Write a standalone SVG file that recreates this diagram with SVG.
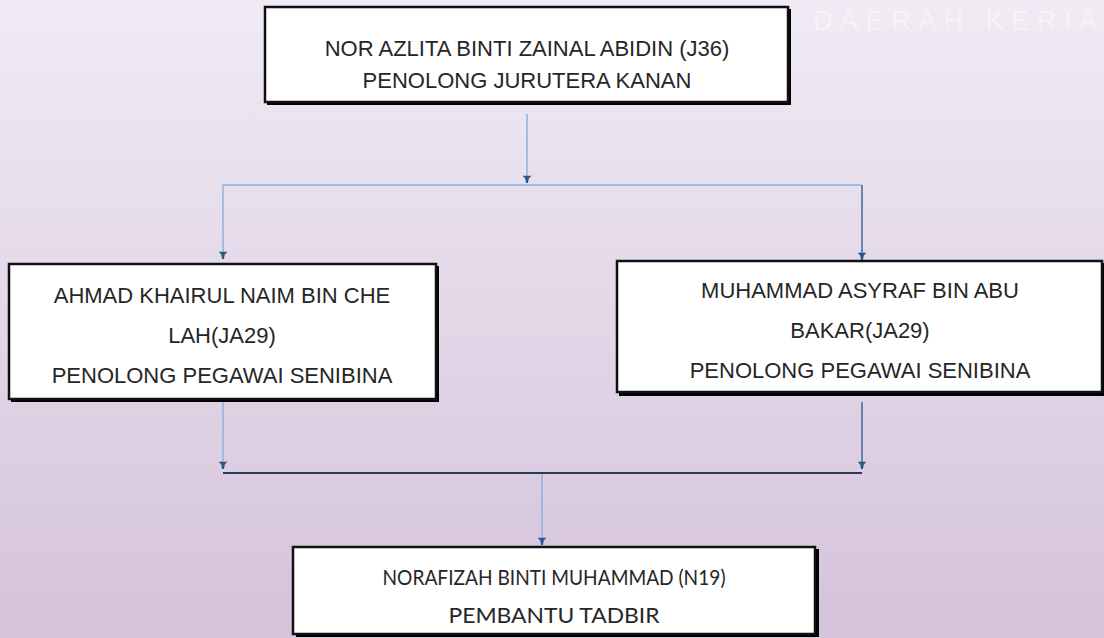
<svg xmlns="http://www.w3.org/2000/svg" width="1104" height="638" viewBox="0 0 1104 638">
  <defs>
    <linearGradient id="bg" x1="0" y1="0" x2="0" y2="1">
      <stop offset="0" stop-color="#f0ebf4"/>
      <stop offset="1" stop-color="#d5c2db"/>
    </linearGradient>
    <marker id="arrd" viewBox="0 0 10 8" refX="5" refY="7" markerWidth="9" markerHeight="8" markerUnits="userSpaceOnUse" orient="0">
      <path d="M0,0 L10,0 L7,3 L6,8 L4,8 L3,3 Z" fill="#2b5788"/>
    </marker>
  </defs>
  <style>
    .shadow { fill: #000000; }
    .box { fill: #ffffff; stroke: #111111; stroke-width: 2.5; }
    .t { font-family: "Liberation Sans", Arial, sans-serif; font-size: 22px; fill: #262626; text-anchor: middle; }
    .tc { font-family: Lato, "Open Sans", sans-serif; font-size: 21px; fill: #262626; text-anchor: middle; }
    .light { stroke: #8fb1de; stroke-width: 1.5; fill: none; }
    .dark { stroke: #46669a; stroke-width: 1.5; fill: none; }
    .darker { stroke: #2c3a58; stroke-width: 2; fill: none; }
    .wm { font-family: "Liberation Sans", Arial, sans-serif; font-size: 27px; fill: #ffffff; fill-opacity: 0.45; }
  </style>

  <rect x="0" y="0" width="1104" height="638" fill="url(#bg)"/>
  <text class="wm" x="813" y="30" textLength="284" lengthAdjust="spacing">DAERAH KERIA</text>

  <g id="connectors">
    <line class="light" x1="527" y1="114" x2="527" y2="182" marker-end="url(#arrd)"/>
    <polyline class="light" points="223,185 862,185"/>
    <line class="light" x1="223" y1="185" x2="223" y2="258" marker-end="url(#arrd)"/>
    <line class="dark" x1="862" y1="185" x2="862" y2="259" marker-end="url(#arrd)"/>
    <line class="light" x1="223" y1="401" x2="223" y2="468" marker-end="url(#arrd)"/>
    <line class="dark" x1="862" y1="402" x2="862" y2="468" marker-end="url(#arrd)"/>
    <polyline class="darker" points="223,473 862,473"/>
    <line class="light" x1="542" y1="474" x2="542" y2="544" marker-end="url(#arrd)"/>
  </g>

  <g id="node-top">
    <rect class="shadow" x="267" y="9" width="524" height="96"/>
    <rect class="box" x="265" y="7" width="523" height="95"/>
    <text class="t" x="527" y="56">NOR AZLITA BINTI ZAINAL ABIDIN (J36)</text>
    <text class="t" x="527" y="88">PENOLONG JURUTERA KANAN</text>
  </g>

  <g id="node-left">
    <rect class="shadow" x="11" y="266" width="428" height="136"/>
    <rect class="box" x="9" y="264" width="427" height="135"/>
    <text class="t" x="222" y="303">AHMAD KHAIRUL NAIM BIN CHE</text>
    <text class="t" x="222" y="343">LAH(JA29)</text>
    <text class="t" x="222" y="383">PENOLONG PEGAWAI SENIBINA</text>
  </g>

  <g id="node-right">
    <rect class="shadow" x="619" y="263" width="485" height="133"/>
    <rect class="box" x="617" y="261" width="485" height="131"/>
    <text class="t" x="860" y="298">MUHAMMAD ASYRAF BIN ABU</text>
    <text class="t" x="860" y="338">BAKAR(JA29)</text>
    <text class="t" x="860" y="378">PENOLONG PEGAWAI SENIBINA</text>
  </g>

  <g id="node-bottom">
    <rect class="shadow" x="296" y="549" width="523" height="88"/>
    <rect class="box" x="293" y="547" width="522" height="87"/>
    <text class="tc" x="554" y="585" textLength="343" lengthAdjust="spacingAndGlyphs">NORAFIZAH BINTI MUHAMMAD (N19)</text>
    <text class="tc" x="554" y="623" textLength="211" lengthAdjust="spacingAndGlyphs">PEMBANTU TADBIR</text>
  </g>
</svg>
